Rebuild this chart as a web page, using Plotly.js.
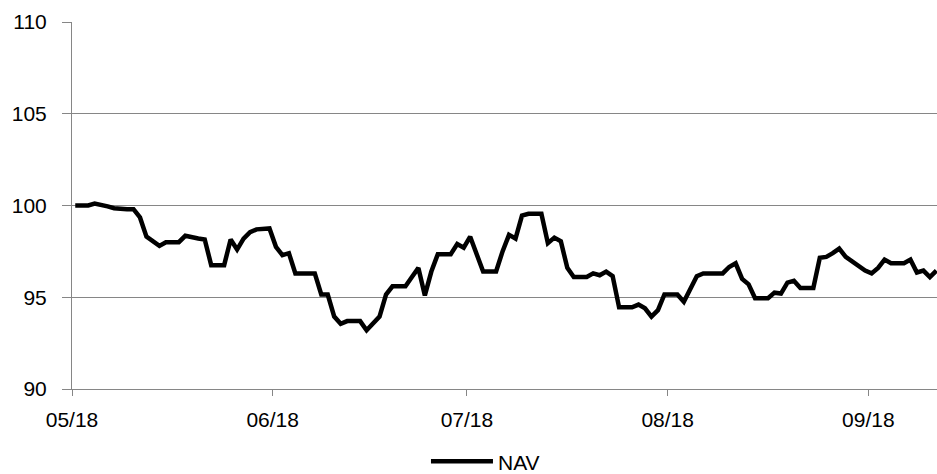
<!DOCTYPE html>
<html>
<head>
<meta charset="utf-8">
<script src="https://cdn.plot.ly/plotly-3.0.1.min.js"></script>
<style>
  html, body { margin: 0; padding: 0; background: #fff; }
  #chart { width: 937px; height: 474px; }
</style>
</head>
<body>
<div id="chart"></div>
<script>
// Daily NAV series starting 2018-05-01 (one value per calendar day)
const startDate = '2018-05-01';
const navValues = [
  100.0, 100.0, 100.0, 100.1, 100.05, 99.95, 99.85, 99.8, 99.8, 99.8,
  99.35, 98.3, 98.05, 97.8, 98.0, 98.0, 98.0, 98.35, 98.25, 98.2,
  98.15, 96.75, 96.75, 96.75, 98.15, 97.6, 98.2, 98.55, 98.7, 98.75,
  98.75, 97.75, 97.3, 97.4, 96.3, 96.3, 96.3, 96.3, 95.15, 95.15,
  93.95, 93.55, 93.7, 93.7, 93.7, 93.2, 93.55, 93.95, 95.15, 95.6,
  95.6, 95.6, 96.1, 96.6, 95.1, 96.4, 97.35, 97.35, 97.35, 97.9,
  97.7, 98.3, 97.4, 96.4, 96.4, 96.4, 97.5, 98.4, 98.2, 99.45,
  99.55, 99.55, 99.55, 97.95, 98.25, 98.05, 96.6, 96.1, 96.1, 96.1,
  96.3, 96.2, 96.4, 96.15, 94.45, 94.45, 94.45, 94.6, 94.4, 93.95,
  94.3, 95.15, 95.15, 95.15, 94.75, 95.45, 96.15, 96.3, 96.3, 96.3,
  96.3, 96.65, 96.85, 96.0, 95.7, 94.95, 94.95, 94.95, 95.25, 95.2,
  95.8, 95.9, 95.5, 95.5, 95.5, 97.15, 97.2, 97.4, 97.65, 97.2,
  96.95, 96.7, 96.45, 96.3, 96.6, 97.05, 96.85, 96.85, 96.85, 97.05,
  96.35, 96.45, 96.1, 96.45
];
const monthTicks = ['2018-05-01', '2018-06-01', '2018-07-01', '2018-08-01', '2018-09-01'];
const monthLabels = ['05/18', '06/18', '07/18', '08/18', '09/18'];
const yTicks = [90, 95, 100, 105, 110];
const seriesName = 'NAV';

// one date per value, each point centred in its day slot
const dates = navValues.map(function (_, i) {
  const d = new Date(startDate + 'T12:00:00Z');
  d.setUTCDate(d.getUTCDate() + i);
  return d.toISOString().slice(0, 19).replace('T', ' ');
});

const grey = '#868686';
const font = { family: 'Liberation Sans, Arial, sans-serif', size: 21, color: '#000' };

Plotly.newPlot('chart', [{
  type: 'scatter',
  mode: 'lines',
  name: seriesName,
  x: dates,
  y: navValues,
  line: { color: '#000', width: 4.5 },
  hoverinfo: 'skip'
}], {
  width: 937,
  height: 474,
  margin: { l: 72, r: 0, t: 22, b: 85, autoexpand: false },
  paper_bgcolor: '#fff',
  plot_bgcolor: '#fff',
  font: font,
  showlegend: true,
  legend: {
    orientation: 'h',
    x: 0.478, xanchor: 'center',
    y: -0.198, yanchor: 'middle',
    font: font,
    itemwidth: 62,
    bgcolor: 'rgba(0,0,0,0)'
  },
  xaxis: {
    type: 'date',
    range: ['2018-05-01 00:00', '2018-09-11 14:24'],
    tickvals: monthTicks,
    ticktext: monthLabels,
    showgrid: false,
    showline: true,
    linecolor: grey,
    linewidth: 1,
    ticks: 'outside',
    ticklen: 6,
    tickcolor: grey,
    tickwidth: 1,
    ticklabelstandoff: 6,
    tickfont: font,
    zeroline: false,
    automargin: false,
    fixedrange: true
  },
  yaxis: {
    range: [90, 110],
    tickvals: yTicks,
    ticktext: yTicks.map(String),
    showgrid: true,
    gridcolor: grey,
    gridwidth: 1,
    showline: true,
    linecolor: grey,
    linewidth: 1,
    ticks: 'outside',
    ticklen: 9,
    tickcolor: grey,
    tickwidth: 1,
    ticklabelstandoff: 11,
    tickfont: font,
    zeroline: false,
    automargin: false,
    fixedrange: true
  }
}, { displayModeBar: false, staticPlot: true });
</script>
</body>
</html>
